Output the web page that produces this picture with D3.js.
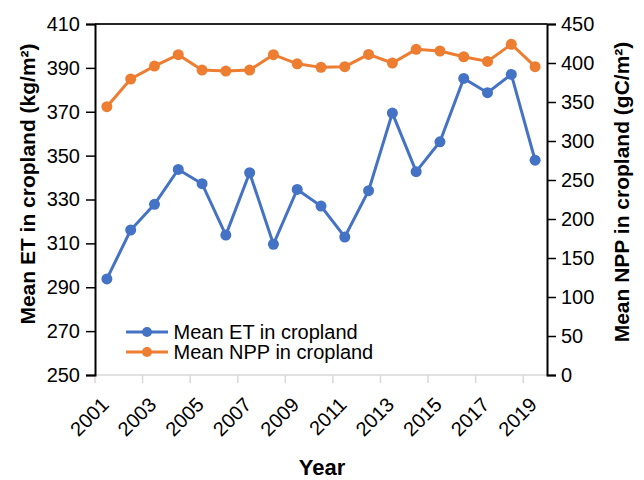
<!DOCTYPE html>
<html>
<head>
<meta charset="utf-8">
<script src="https://cdn.jsdelivr.net/npm/d3@7"></script>
<style>
  body { margin: 0; background: #fff; }
  text { font-family: "Liberation Sans", Arial, sans-serif; fill: #000; }
</style>
</head>
<body>
<div class="chart"></div>
<script>
// Data
const years = d3.range(2001, 2020)
const etValues = [293.8, 316.1, 327.8, 343.7, 337.2, 313.8, 342.2, 309.6, 334.6, 327.0,
                  312.9, 334.0, 369.4, 342.7, 356.3, 385.2, 378.7, 387.0, 347.9]
const nppValues = [344, 379.5, 396, 410.7, 391, 389.7, 391, 410.7, 399, 394.4,
                   395.3, 411, 400, 417.5, 415.4, 408, 402, 424, 395.3]
const leftTicks = [250, 270, 290, 310, 330, 350, 370, 390, 410]
const rightTicks = [0, 50, 100, 150, 200, 250, 300, 350, 400, 450]
const yearLabels = [2001, 2003, 2005, 2007, 2009, 2011, 2013, 2015, 2017, 2019]
const seriesNames = ['Mean ET in cropland', 'Mean NPP in cropland']

const blue = '#4472c4'
const orange = '#ed7d31'

const W = 644, H = 480
const margin = {top: 24, right: 97, bottom: 105, left: 95}
const width = W - margin.left - margin.right
const height = H - margin.top - margin.bottom
const fontFam = '"Liberation Sans", Arial, sans-serif'

const svg = d3.select('.chart')
    .append('svg')
    .attr('width', W)
    .attr('height', H)

const g = svg.append('g')
    .attr('transform', 'translate(' + margin.left + ',' + margin.top + ')')

// Category scale: each year is a band, points sit at band centres
const xScale = d3.scaleBand()
    .domain(years)
    .range([0, width])
    .padding(0)

const yLeft = d3.scaleLinear().domain([250, 410]).range([height, 0])
const yRight = d3.scaleLinear().domain([0, 450]).range([height, 0])

const cx = d => xScale(d) + xScale.bandwidth() / 2

// Bottom axis (light grey), ticks at band edges
g.append('line')
    .attr('x1', 0).attr('x2', width)
    .attr('y1', height).attr('y2', height)
    .attr('stroke', '#d9d9d9').attr('stroke-width', 1.5)

g.selectAll('.xtick')
    .data(yearLabels)
    .enter()
    .append('line')
    .attr('class', 'xtick')
    .attr('x1', d => xScale(d)).attr('x2', d => xScale(d))
    .attr('y1', height).attr('y2', height + 8)
    .attr('stroke', '#d9d9d9').attr('stroke-width', 1.5)

g.selectAll('.xlabel')
    .data(yearLabels)
    .enter()
    .append('text')
    .attr('class', 'xlabel')
    .attr('text-anchor', 'end')
    .attr('font-size', 20)
    .attr('transform', d => 'translate(' + (xScale(d) + 15) + ',' + (height + 31) + ') rotate(-45)')
    .text(d => d)

// Top border
g.append('line')
    .attr('x1', 0).attr('x2', width)
    .attr('y1', 0).attr('y2', 0)
    .attr('stroke', '#262626').attr('stroke-width', 2)

// Left axis
const leftAxis = g.append('g')
    .call(d3.axisLeft(yLeft).tickValues(leftTicks).tickSize(9).tickSizeOuter(9).tickPadding(6))
leftAxis.select('.domain').attr('stroke', '#000').attr('stroke-width', 2)
leftAxis.selectAll('.tick line').attr('stroke', '#000').attr('stroke-width', 1.5)
leftAxis.selectAll('.tick text').attr('font-size', 20).attr('font-family', fontFam).attr('fill', '#000')

// Right axis
const rightAxis = g.append('g')
    .attr('transform', 'translate(' + width + ',0)')
    .call(d3.axisRight(yRight).tickValues(rightTicks).tickSize(9).tickSizeOuter(9).tickPadding(5))
rightAxis.select('.domain').attr('stroke', '#000').attr('stroke-width', 2)
rightAxis.selectAll('.tick line').attr('stroke', '#000').attr('stroke-width', 1.5)
rightAxis.selectAll('.tick text').attr('font-size', 20).attr('font-family', fontFam).attr('fill', '#000')

// Lines and markers
const series = [
    {name: seriesNames[0], values: etValues, scale: yLeft, color: blue},
    {name: seriesNames[1], values: nppValues, scale: yRight, color: orange}
]

series.forEach(s => {
    const line = d3.line()
        .x((d, i) => cx(years[i]))
        .y(d => s.scale(d))
    g.append('path')
        .datum(s.values)
        .attr('d', line)
        .attr('fill', 'none')
        .attr('stroke', s.color)
        .attr('stroke-width', 3)
    g.selectAll(null)
        .data(s.values)
        .enter()
        .append('circle')
        .attr('cx', (d, i) => cx(years[i]))
        .attr('cy', d => s.scale(d))
        .attr('r', 5.5)
        .attr('fill', s.color)
})

// Legend
const legend = svg.append('g')
series.forEach((s, i) => {
    const ly = 332 + i * 20
    legend.append('line')
        .attr('x1', 126).attr('x2', 168)
        .attr('y1', ly).attr('y2', ly)
        .attr('stroke', s.color).attr('stroke-width', 3)
    legend.append('circle')
        .attr('cx', 147).attr('cy', ly).attr('r', 5)
        .attr('fill', s.color)
    legend.append('text')
        .attr('x', 173.5).attr('y', ly + 7)
        .attr('font-size', 20)
        .text(s.name)
})

// Axis titles
svg.append('text')
    .attr('text-anchor', 'middle')
    .attr('font-size', 21)
    .attr('font-weight', 'bold')
    .attr('transform', 'translate(35,184) rotate(-90)')
    .text('Mean ET in cropland (kg/m²)')

svg.append('text')
    .attr('text-anchor', 'middle')
    .attr('font-size', 21)
    .attr('font-weight', 'bold')
    .attr('transform', 'translate(629,192) rotate(-90)')
    .text('Mean NPP in cropland (gC/m²)')

svg.append('text')
    .attr('text-anchor', 'middle')
    .attr('x', 322).attr('y', 475)
    .attr('font-size', 22)
    .attr('font-weight', 'bold')
    .text('Year')
</script>
</body>
</html>
